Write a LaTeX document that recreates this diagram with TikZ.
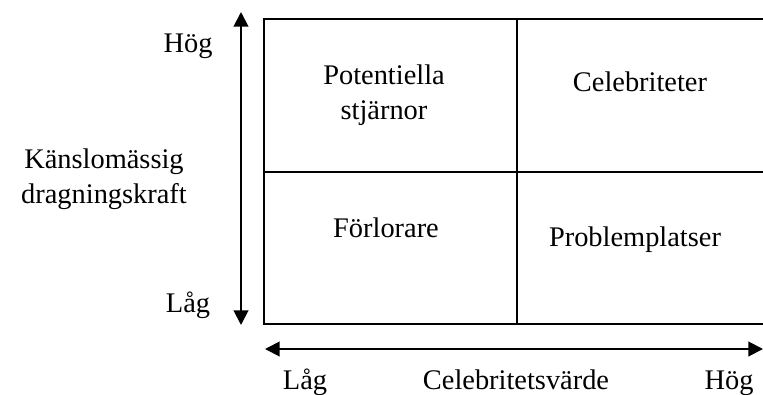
\documentclass[tikz,border=0pt]{standalone}
\usepackage{fontspec}
\setmainfont{Liberation Serif}
\usetikzlibrary{arrows.meta}
\begin{document}
\begin{tikzpicture}[x=0.75pt,y=-0.75pt,
  lbl/.style={font=\fontsize{21.3}{26}\selectfont, align=center, inner sep=0pt, anchor=base},
  boxline/.style={line width=2.2pt},
  axis/.style={line width=1.5pt, {Triangle[width=11pt,length=11pt]}-{Triangle[width=11pt,length=11pt]}}]
\useasboundingbox (0,0) rectangle (763,394);
% grid
\coordinate (tl) at (264,19);
\coordinate (tr) at (764,19);
\coordinate (bl) at (264,324);
\coordinate (br) at (764,324);
\coordinate (mt) at (517,19);
\coordinate (mb) at (517,324);
\coordinate (ml) at (264,172);
\coordinate (mr) at (764,172);
\draw[boxline] (tr) -- (tl) -- (bl) -- (br);
\draw[boxline] (mt) -- (mb);
\draw[boxline] (ml) -- (mr);
% axes
\coordinate (vt) at (241,12);
\coordinate (vb) at (241,325);
\coordinate (hl) at (265,349);
\coordinate (hr) at (763,349);
\draw[axis] (vt) -- (vb);
\draw[axis] (hl) -- (hr);
% labels
\node[lbl] (hog1) at (188,52) {Hög};
\node[lbl] (lag1) at (188,312) {Låg};
\node[lbl] (yl) at (104,203) {Känslomässig\\dragningskraft};
\node[lbl] (q1) at (384,119) {Potentiella\\stjärnor};
\node[lbl] (q2) at (640,91) {Celebriteter};
\node[lbl] (q3) at (386,237) {Förlorare};
\node[lbl] (q4) at (635,246) {Problemplatser};
\node[lbl] (lag2) at (305,389) {Låg};
\node[lbl] (xl) at (516,389) {Celebritetsvärde};
\node[lbl] (hog2) at (729,389) {Hög};
\end{tikzpicture}
\end{document}
